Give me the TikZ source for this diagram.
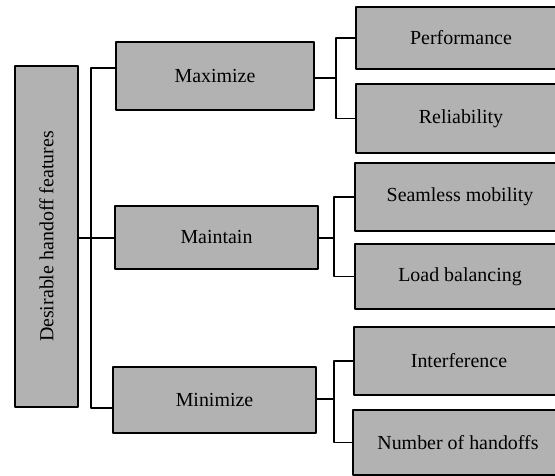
\documentclass[tikz,border=0pt]{standalone}
\usepackage{fontspec}
\setmainfont{Liberation Serif}
\usepackage{tikz}

\begin{document}
\begin{tikzpicture}[x=1bp,y=-1bp,line cap=round,line join=round,
    feat/.style={draw=black,line width=2bp,fill=black!30,inner sep=0pt,
      font=\fontsize{20}{24}\selectfont},
    link/.style={draw=black,line width=1.5bp}]
  \useasboundingbox (0,0) rectangle (555,476);
  % left column
  \node[feat,minimum width=63bp,minimum height=341bp] (root) at (46.5,236.5)
    {\rotatebox{90}{Desirable handoff features}};
  % middle column
  \node[feat,minimum width=198bp,minimum height=68bp] (max) at (215,76) {Maximize};
  \node[feat,minimum width=203bp,minimum height=63bp] (maint) at (216.5,237.5) {Maintain};
  \node[feat,minimum width=203bp,minimum height=66bp] (min) at (214.5,400) {Minimize};
  % right column
  \node[feat,minimum width=210bp,minimum height=62bp] (perf) at (461,38) {Performance};
  \node[feat,minimum width=210bp,minimum height=69bp] (rel) at (461,118.5) {Reliability};
  \node[feat,minimum width=210bp,minimum height=68bp] (seam) at (460,197) {Seamless mobility};
  \node[feat,minimum width=210bp,minimum height=65bp] (load) at (460,276.5) {Load balancing};
  \node[feat,minimum width=210bp,minimum height=68bp] (intf) at (459,361) {Interference};
  \node[feat,minimum width=210bp,minimum height=65bp] (nho) at (458,442.5) {Number of handoffs};
  % brackets
  \coordinate (rj) at (91,238);
  \coordinate (ta) at (91,68);
  \coordinate (tb) at (91,408);
  \draw[link] (root.east |- rj) -- (rj) -- (rj -| maint.west);
  \draw[link] (ta -| max.west) -- (ta) -- (tb) -- (tb -| min.west);
  \coordinate (ja) at (336,78);
  \coordinate (jb) at (334,238);
  \coordinate (jc) at (334,399);
  \draw[link] (ja -| max.east) -- (ja);
  \draw[link] (perf.west) -| (ja) |- (rel.west);
  \draw[link] (jb -| maint.east) -- (jb);
  \draw[link] (seam.west) -| (jb) |- (load.west);
  \draw[link] (jc -| min.east) -- (jc);
  \draw[link] (intf.west) -| (jc) |- (nho.west);
\end{tikzpicture}
\end{document}
